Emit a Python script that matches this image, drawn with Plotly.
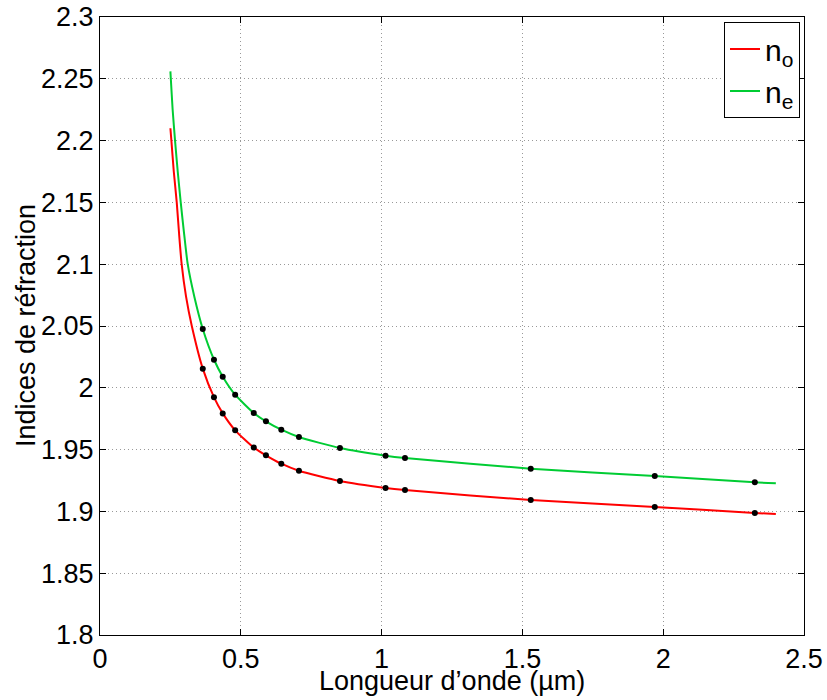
import plotly.graph_objects as go

# Measured wavelengths (µm) and indices (black dots)
wl_meas = [0.3650, 0.4047, 0.4358, 0.4800, 0.5461, 0.5893, 0.6438, 0.7065,
           0.8521, 1.0140, 1.0830, 1.5296, 1.9701, 2.3254]
no_meas = [2.0155, 1.9923, 1.9793, 1.9656, 1.9516, 1.9454, 1.9386, 1.9329,
           1.9246, 1.9190, 1.9173, 1.9092, 1.9036, 1.8987]
ne_meas = [2.0476, 2.0227, 2.0090, 1.9944, 1.9796, 1.9729, 1.9661, 1.9602,
           1.9513, 1.9451, 1.9432, 1.9346, 1.9286, 1.9235]

# Curve readings (dispersion curves)
wl_curve_o = [0.250, 0.2535, 0.2620, 0.2725, 0.2807, 0.290, 0.3056, 0.326,
              0.365, 0.405, 0.436, 0.480, 0.546, 0.589, 0.644, 0.706, 0.852,
              1.014, 1.083, 1.530, 1.970, 2.325, 2.400]
no_curve = [2.210, 2.200, 2.175, 2.150, 2.125, 2.100, 2.0737, 2.050, 2.0155,
            1.9923, 1.9793, 1.9656, 1.9516, 1.9454, 1.9386, 1.9329, 1.9246,
            1.9190, 1.9173, 1.9092, 1.9036, 1.8987, 1.8979]
wl_curve_e = [0.250, 0.2515, 0.2580, 0.2665, 0.2760, 0.2867, 0.2985, 0.3115,
              0.335, 0.365, 0.405, 0.436, 0.480, 0.546, 0.589, 0.644, 0.706,
              0.852, 1.014, 1.083, 1.530, 1.970, 2.325, 2.400]
ne_curve = [2.256, 2.250, 2.225, 2.200, 2.175, 2.150, 2.125, 2.100, 2.0737,
            2.0476, 2.0227, 2.0090, 1.9944, 1.9796, 1.9729, 1.9661, 1.9602,
            1.9513, 1.9451, 1.9432, 1.9346, 1.9286, 1.9235, 1.9227]

RED = "rgb(255,0,0)"
GREEN = "rgb(0,204,51)"
FONT = "Liberation Sans, Arial, Helvetica, sans-serif"

fig = go.Figure()
fig.add_trace(go.Scatter(x=wl_curve_o, y=no_curve, mode="lines", name="n<sub>o</sub>",
                         line=dict(color=RED, width=2, shape="spline", smoothing=0.6)))
fig.add_trace(go.Scatter(x=wl_curve_e, y=ne_curve, mode="lines", name="n<sub>e</sub>",
                         line=dict(color=GREEN, width=2, shape="spline", smoothing=0.6)))
fig.add_trace(go.Scatter(x=wl_meas, y=no_meas, mode="markers", showlegend=False,
                         marker=dict(color="black", size=6)))
fig.add_trace(go.Scatter(x=wl_meas, y=ne_meas, mode="markers", showlegend=False,
                         marker=dict(color="black", size=6)))

axis_common = dict(
    ticks="inside", ticklen=6, tickcolor="black", tickwidth=1,
    showline=True, linecolor="black", linewidth=1, mirror="ticks",
    showgrid=True, gridcolor="#999999", griddash="1px,3px", gridwidth=1,
    zeroline=False, automargin=False,
    tickfont=dict(size=27, family=FONT, color="black"),
)

fig.update_layout(
    width=827, height=700,
    margin=dict(l=100, r=23, t=17, b=65),
    plot_bgcolor="white", paper_bgcolor="white",
    font=dict(family=FONT, size=27, color="black"),
    xaxis=dict(range=[0, 2.5], tick0=0, dtick=0.5, **axis_common),
    yaxis=dict(range=[1.8, 2.3], tick0=1.8, dtick=0.05, **axis_common),
    legend=dict(x=1 - 4 / 704, y=1 - 5 / 618, xanchor="right", yanchor="top",
                bgcolor="white", bordercolor="black", borderwidth=1,
                font=dict(size=30, family=FONT), itemwidth=30, tracegroupgap=0),
    annotations=[
        dict(text="Longueur d’onde (µm)", xref="paper", yref="paper",
             x=0.5, y=(635 - 681) / 618, xanchor="center", yanchor="middle",
             showarrow=False, font=dict(size=27, family=FONT)),
        dict(text="Indices de réfraction", xref="paper", yref="paper",
             x=(26 - 100) / 704, y=0.5, xanchor="center", yanchor="middle",
             textangle=-90, showarrow=False, font=dict(size=27, family=FONT)),
    ],
)

fig.write_html("out.html", config={"displayModeBar": False},
               post_script="document.body.style.margin='0';document.body.style.overflow='hidden';")
